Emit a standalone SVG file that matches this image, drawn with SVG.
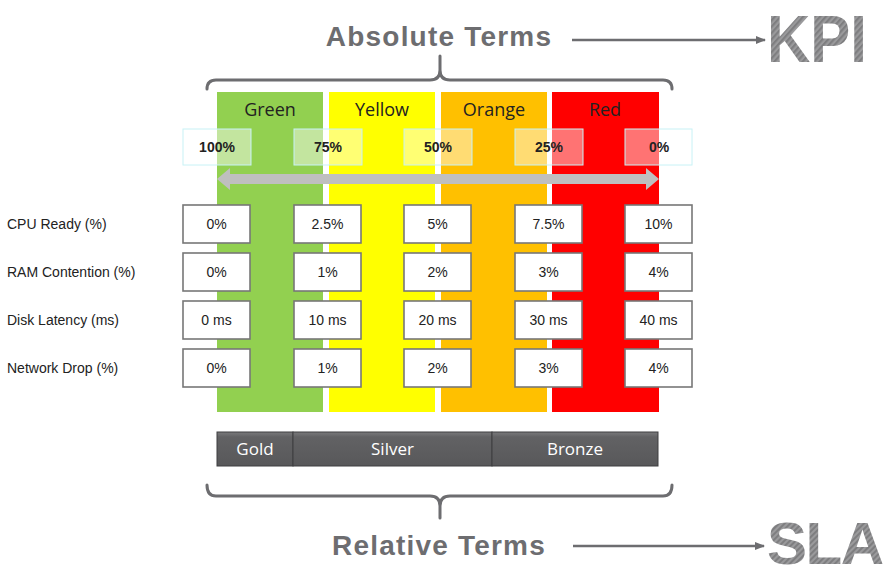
<svg xmlns="http://www.w3.org/2000/svg" width="896" height="578" viewBox="0 0 896 578">
<defs>
<style>
.head{font-family:"Liberation Sans",Arial,sans-serif;font-weight:bold;font-size:28px;letter-spacing:1.2px;fill:#6d6d70;text-anchor:middle}
.big{font-family:"Liberation Sans",Arial,sans-serif;font-weight:bold;font-size:60px;fill:url(#stripes)}
.col{font-family:"Open Sans","Liberation Sans",sans-serif;font-size:18px;fill:#222;text-anchor:middle}
.pct{font-family:"Liberation Sans",Arial,sans-serif;font-weight:bold;font-size:14px;fill:#222;text-anchor:middle}
.pbox{fill:#fff;fill-opacity:0.45;stroke:#c8f2f6;stroke-width:1}
.vbox{fill:#fff;stroke:#777;stroke-width:1.6}
.val{font-family:"Liberation Sans",Arial,sans-serif;font-size:14px;fill:#222;text-anchor:middle}
.lbl{font-family:"Liberation Sans",Arial,sans-serif;font-size:14px;fill:#222}
.tier{fill:url(#tierg);stroke:#3e3e40;stroke-width:1}
.tiert{font-family:"Open Sans","Liberation Sans",sans-serif;font-size:17px;fill:#fff;text-anchor:middle}
.brace{fill:none;stroke:#6d6d70;stroke-width:3;stroke-linecap:round}
.termline{stroke:#6d6d70;stroke-width:2.5;fill:none}
</style>
<pattern id="stripes" width="4" height="4" patternUnits="userSpaceOnUse" patternTransform="rotate(45)">
<rect width="4" height="4" fill="#9a9a9c"/>
<rect width="2" height="4" fill="#7e7e80"/>
</pattern>
<linearGradient id="tierg" x1="0" y1="0" x2="0" y2="1">
<stop offset="0" stop-color="#7a7a7c"/>
<stop offset="0.15" stop-color="#626264"/>
<stop offset="1" stop-color="#58585a"/>
</linearGradient>
<marker id="arr" markerWidth="10" markerHeight="8" refX="9" refY="4" orient="auto" markerUnits="userSpaceOnUse">
<path d="M0,0 L10,4 L0,8 Z" fill="#6d6d70"/>
</marker>
</defs>
<rect width="896" height="578" fill="#fff"/>

<g id="columns">
<rect x="217" y="92" width="106" height="320" fill="#92d050"/>
<rect x="329" y="92" width="106" height="320" fill="#ffff00"/>
<rect x="441" y="92" width="106" height="320" fill="#ffc000"/>
<rect x="552" y="92" width="107" height="320" fill="#ff0000"/>
<text class="col" x="270" y="116">Green</text>
<text class="col" x="382" y="116">Yellow</text>
<text class="col" x="494" y="116">Orange</text>
<text class="col" x="605" y="116">Red</text>
</g>

<g id="absolute-terms">
<text class="head" x="439" y="46">Absolute Terms</text>
<path class="brace" d="M207,89 Q207,80 216,80 H430 Q440,80 440,70 V56 M440,70 Q440,80 450,80 H663 Q672,80 672,89"/>
</g>
<g id="kpi"><text class="big" transform="translate(767,62) scale(1,1.12)" x="0" y="0">KPI</text></g>

<g id="percent-scale">
<rect class="pbox" x="183" y="129" width="68" height="36"/>
<rect class="pbox" x="294" y="129" width="68" height="36"/>
<rect class="pbox" x="404" y="129" width="68" height="36"/>
<rect class="pbox" x="515" y="129" width="68" height="36"/>
<rect class="pbox" x="625" y="129" width="67" height="36"/>
<text class="pct" x="217" y="152">100%</text>
<text class="pct" x="328" y="152">75%</text>
<text class="pct" x="438" y="152">50%</text>
<text class="pct" x="549" y="152">25%</text>
<text class="pct" x="659" y="152">0%</text>
<polygon points="217,179 230,168 230,174 646,174 646,168 659,179 646,190 646,184 230,184 230,190" fill="#bfbfbf"/>
</g>

<g id="labels">
<text class="lbl" x="7" y="229">CPU Ready (%)</text>
<text class="lbl" x="7" y="277">RAM Contention (%)</text>
<text class="lbl" x="7" y="325">Disk Latency (ms)</text>
<text class="lbl" x="7" y="373">Network Drop (%)</text>
</g>

<g id="row-cpu">
<rect class="vbox" x="183" y="205" width="67" height="38"/>
<rect class="vbox" x="294" y="205" width="67" height="38"/>
<rect class="vbox" x="404" y="205" width="67" height="38"/>
<rect class="vbox" x="515" y="205" width="67" height="38"/>
<rect class="vbox" x="625" y="205" width="67" height="38"/>
<text class="val" x="216.5" y="229">0%</text>
<text class="val" x="327.5" y="229">2.5%</text>
<text class="val" x="437.5" y="229">5%</text>
<text class="val" x="548.5" y="229">7.5%</text>
<text class="val" x="658.5" y="229">10%</text>
</g>
<g id="row-ram">
<rect class="vbox" x="183" y="253" width="67" height="38"/>
<rect class="vbox" x="294" y="253" width="67" height="38"/>
<rect class="vbox" x="404" y="253" width="67" height="38"/>
<rect class="vbox" x="515" y="253" width="67" height="38"/>
<rect class="vbox" x="625" y="253" width="67" height="38"/>
<text class="val" x="216.5" y="277">0%</text>
<text class="val" x="327.5" y="277">1%</text>
<text class="val" x="437.5" y="277">2%</text>
<text class="val" x="548.5" y="277">3%</text>
<text class="val" x="658.5" y="277">4%</text>
</g>
<g id="row-disk">
<rect class="vbox" x="183" y="301" width="67" height="38"/>
<rect class="vbox" x="294" y="301" width="67" height="38"/>
<rect class="vbox" x="404" y="301" width="67" height="38"/>
<rect class="vbox" x="515" y="301" width="67" height="38"/>
<rect class="vbox" x="625" y="301" width="67" height="38"/>
<text class="val" x="216.5" y="325">0 ms</text>
<text class="val" x="327.5" y="325">10 ms</text>
<text class="val" x="437.5" y="325">20 ms</text>
<text class="val" x="548.5" y="325">30 ms</text>
<text class="val" x="658.5" y="325">40 ms</text>
</g>
<g id="row-network">
<rect class="vbox" x="183" y="349" width="67" height="38"/>
<rect class="vbox" x="294" y="349" width="67" height="38"/>
<rect class="vbox" x="404" y="349" width="67" height="38"/>
<rect class="vbox" x="515" y="349" width="67" height="38"/>
<rect class="vbox" x="625" y="349" width="67" height="38"/>
<text class="val" x="216.5" y="373">0%</text>
<text class="val" x="327.5" y="373">1%</text>
<text class="val" x="437.5" y="373">2%</text>
<text class="val" x="548.5" y="373">3%</text>
<text class="val" x="658.5" y="373">4%</text>
</g>

<g id="tiers">
<rect class="tier" x="217" y="432" width="76" height="34"/>
<rect class="tier" x="293" y="432" width="199" height="34"/>
<rect class="tier" x="492" y="432" width="166" height="34"/>
<text class="tiert" x="255" y="455">Gold</text>
<text class="tiert" x="392.5" y="455">Silver</text>
<text class="tiert" x="575" y="455">Bronze</text>
</g>

<g id="relative-terms">
<path class="brace" d="M207,485 Q207,496 216,496 H430 Q440,496 440,506 V518 M440,506 Q440,496 450,496 H663 Q672,496 672,485"/>
<text class="head" x="439" y="555">Relative Terms</text>
</g>
<g id="sla"><text class="big" x="767" y="564" font-size="61" letter-spacing="-1.5">SLA</text></g>

<g id="connectors">
<line class="termline" x1="572" y1="40" x2="765" y2="40" marker-end="url(#arr)"/>
<line class="termline" x1="573" y1="546" x2="764" y2="546" marker-end="url(#arr)"/>
</g>
</svg>
